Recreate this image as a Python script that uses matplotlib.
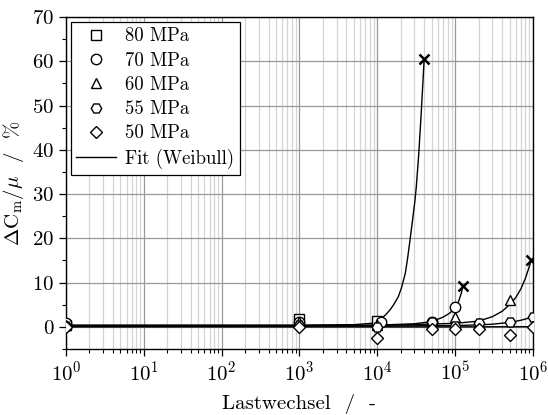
import matplotlib
matplotlib.use("Agg")
import matplotlib.pyplot as plt
from matplotlib.ticker import LogLocator, MultipleLocator, NullFormatter

plt.rcParams["font.family"] = ["cmr10", "DejaVu Serif"]
plt.rcParams["mathtext.fontset"] = "cm"
plt.rcParams["axes.formatter.use_mathtext"] = True
plt.rcParams["axes.unicode_minus"] = False

# measured points (Lastwechsel, dC/mu in %)
x80 = [1, 1e3, 1e4]
y80 = [0.5, 1.8, 1.4]
x70 = [1, 1e3, 1.1e4, 5e4, 1e5]
y70 = [0.8, 1.2, 1.0, 1.0, 4.5]
x60 = [1, 1e3, 1e4, 5e4, 1e5, 2e5, 5e5]
y60 = [0.5, 1.0, 0.5, 0.6, 2.3, 0.8, 6.1]
x55 = [1, 1e3, 1e4, 5e4, 1e5, 2e5, 5e5, 1e6]
y55 = [0.3, 0.5, 0.0, 1.0, 0.3, 0.8, 1.0, 2.3]
x50 = [1, 1e3, 1e4, 5e4, 1e5, 2e5, 5e5, 1e6]
y50 = [0.0, 0.0, -2.5, -0.5, -0.5, -0.5, -1.9, 0.0]

# failure points
x_fail = [4e4, 1.26e5, 9.5e5]
y_fail = [60.5, 9.3, 15.0]

# Weibull fit curves
fx80 = [1, 1e3, 5e3, 1e4, 1.15e4, 1.29e4, 1.45e4, 1.62e4, 1.86e4, 2.04e4,
        2.29e4, 2.45e4, 2.63e4, 2.82e4, 3.02e4, 3.16e4, 3.39e4, 3.63e4, 4e4]
fy80 = [0.4, 0.4, 0.5, 0.9, 2.0, 2.8, 3.8, 5.0, 6.8, 8.8,
        12.1, 15.5, 19.6, 23.8, 28.0, 31.4, 38.5, 47.0, 60.5]
fx70 = [1, 1e3, 1e4, 3e4, 5e4, 7e4, 8.5e4, 1e5, 1.1e5, 1.2e5, 1.26e5]
fy70 = [0.3, 0.3, 0.4, 0.7, 1.2, 2.2, 3.1, 4.3, 5.6, 7.6, 9.3]
fx60 = [1, 1e4, 1e5, 2e5, 3e5, 4e5, 5e5, 6e5, 7e5, 8e5, 9.5e5]
fy60 = [0.2, 0.3, 0.8, 1.3, 2.3, 3.5, 5.0, 6.6, 8.6, 11.0, 15.0]
fx55 = [1, 1e4, 1e5, 2e5, 3e5, 5e5, 7e5, 8.5e5, 1e6]
fy55 = [0.1, 0.2, 0.3, 0.45, 0.6, 1.0, 1.5, 1.9, 2.5]
fx50 = [1, 1e4, 1e5, 1e6]
fy50 = [0.0, 0.0, 0.0, 0.05]

fig = plt.figure(figsize=(5.48, 4.15), dpi=100)
ax = fig.add_axes([0.1204, 0.159, 0.8522, 0.8])

for fx, fy in [(fx80, fy80), (fx70, fy70), (fx60, fy60), (fx55, fy55), (fx50, fy50)]:
    ax.plot(fx, fy, color="black", lw=1.0, zorder=3)

mk = dict(ls="none", mfc="white", mec="black", mew=1.0, ms=7.5, zorder=4)
ax.plot(x80, y80, marker="s", label="80 MPa", **mk)
ax.plot(x70, y70, marker="o", label="70 MPa", **mk)
ax.plot(x60, y60, marker="^", label="60 MPa", **mk)
ax.plot(x55, y55, marker="H", label="55 MPa", **mk)
ax.plot(x50, y50, marker="D", label="50 MPa", **dict(mk, ms=6.5))
ax.plot([], [], color="black", lw=1.0, label="Fit (Weibull)")
ax.plot(x_fail, y_fail, ls="none", marker="x", color="black", ms=7, mew=1.8, zorder=5)

ax.set_xscale("log")
ax.set_xlim(1, 1e6)
ax.set_ylim(-5, 70)
ax.xaxis.set_major_locator(LogLocator(base=10, numticks=10))
ax.xaxis.set_minor_locator(LogLocator(base=10, subs=range(2, 10), numticks=20))
ax.xaxis.set_minor_formatter(NullFormatter())
ax.set_yticks(range(0, 71, 10))
ax.yaxis.set_minor_locator(MultipleLocator(5))

ax.grid(True, which="major", axis="x", color="#999999", lw=0.9)
ax.grid(True, which="minor", axis="x", color="#d4d4d4", lw=0.9)
ax.grid(True, which="major", axis="y", color="#999999", lw=0.9)
ax.set_axisbelow(True)

ax.tick_params(which="major", direction="out", length=5, width=0.9, labelsize=15)
ax.tick_params(which="minor", direction="out", length=3, width=0.8)
ax.tick_params(top=False, right=False)
for s in ax.spines.values():
    s.set_linewidth(1.0)

ax.set_xlabel("Lastwechsel  /  -", fontsize=15)
ax.xaxis.set_label_coords(0.5, -0.135)
ax.set_ylabel(r"$\Delta\mathrm{C}_\mathrm{m}/\mu$  /  %", fontsize=15)
ax.yaxis.set_label_coords(-0.085, 0.5)

leg = ax.legend(loc="upper left", fontsize=13.5, frameon=True, fancybox=False,
                framealpha=1, edgecolor="black", borderaxespad=0.25,
                handlelength=2.1, labelspacing=0.34, borderpad=0.3,
                handletextpad=0.5)
leg.get_frame().set_linewidth(0.9)

fig.savefig("out.png", dpi=100)
